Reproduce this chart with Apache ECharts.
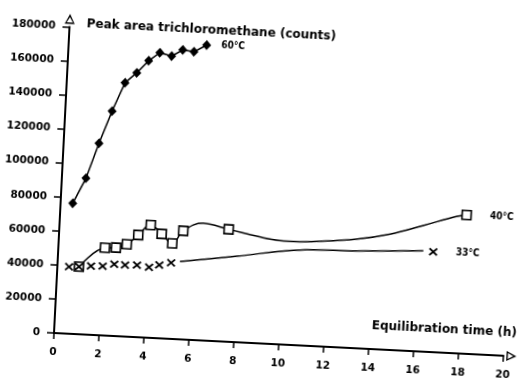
<!DOCTYPE html>
<html>
<head>
<meta charset="utf-8">
<script src="https://cdn.jsdelivr.net/npm/echarts@6.0.0/dist/echarts.min.js"></script>
<style>
  html, body { margin: 0; padding: 0; background: #fff; overflow: hidden; }
  /* the scanned figure sits a little tilted, turn the chart the same way.
     the box starts 20px off the left edge so the long tick labels are not cut */
  #peakArea {
    position: absolute;
    left: -20px;
    top: 0;
    width: 540px;
    height: 390px;
    transform-origin: 74px 333px;
    transform: rotate(2.9deg);
  }
</style>
</head>
<body>
<div id="peakArea"></div>
<script>
// 60°C measurements
var hours60 = [0.54, 1.07, 1.57, 2.08, 2.59, 3.09, 3.59, 4.07, 4.6, 5.08, 5.58, 6.13];
var area60 = [76600, 91700, 112600, 131900, 148900, 155100, 162500, 167500, 165900, 169800, 169100, 173400];

// 40°C measurements
var hours40 = [0.96, 2.07, 2.56, 3.03, 3.52, 4.05, 4.56, 5.05, 5.51, 7.52, 18.05];
var area40 = [39600, 51500, 51900, 54200, 60000, 66200, 61300, 56100, 63800, 66000, 81500];

// 33°C measurements
var hours33 = [0.52, 0.96, 1.49, 2.01, 2.52, 3.0, 3.53, 4.07, 4.52, 5.04, 16.65];
var area33 = [39300, 39600, 40400, 40700, 42100, 42000, 42300, 41400, 43000, 44700, 58900];

// hand drawn curves
var curve40Hours = [0.96, 2.07, 2.56, 3.03, 3.52, 4.05, 4.56, 5.05, 5.51, 6.38, 7.52, 8.9, 9.8, 10.7, 11.2, 13.2, 14.7, 16.15, 17.6, 18.05];
var curve40Area = [39600, 51500, 51900, 54200, 60000, 66200, 61300, 56100, 63800, 68800, 66000, 62500, 61000, 60800, 61200, 64000, 68000, 74000, 80300, 81500];
var curve33Hours = [5.43, 7.95, 10.73, 13.25, 16.21];
var curve33Area = [45600, 50500, 56000, 57100, 59100];

var seriesNames = ["60°C", "40°C", "33°C"];
var xTitle = "Equilibration time (h)";
var yTitle = "Peak area trichloromethane (counts)";

function pairs(xs, ys) {
  return xs.map(function (x, i) { return [x, ys[i]]; });
}

// label only the last point of a series
function lastLabel(name, count, distance) {
  return {
    show: true,
    position: "right",
    distance: distance,
    color: "#000",
    fontFamily: "Liberation Sans Narrow, DejaVu Sans Condensed, sans-serif",
    fontWeight: "bold",
    fontSize: 10,
    formatter: function (p) { return p.dataIndex === count - 1 ? name : ""; }
  };
}

// hollow arrow head at the end of the axes
var openArrow = "path://M5,0 L10,10 L0,10 Z M5,3.2 L1.9,8.6 L8.1,8.6 Z";
var crossMark = "path://M0,1.5 L1.5,0 L5,3.5 L8.5,0 L10,1.5 L6.5,5 L10,8.5 L8.5,10 L5,6.5 L1.5,10 L0,8.5 L3.5,5 Z";

var tickFont = { color: "#000", fontFamily: "DejaVu Sans", fontWeight: "bold", fontSize: 10.5 };

var myChart = echarts.init(document.getElementById("peakArea"));
myChart.setOption({
  backgroundColor: "#fff",
  animation: false,
  title: [
    {
      text: yTitle,
      left: 91,
      top: 17,
      padding: 0,
      textStyle: { color: "#000", fontFamily: "DejaVu Sans", fontWeight: "bold", fontSize: 12 }
    },
    {
      text: xTitle,
      left: 391,
      top: 304,
      padding: 0,
      textStyle: { color: "#000", fontFamily: "DejaVu Sans", fontWeight: "bold", fontSize: 12 }
    }
  ],
  grid: {
    left: 74,
    top: 26.5,
    width: 450,
    height: 306.5,
    outerBoundsMode: "none"
  },
  xAxis: {
    type: "value",
    min: 0,
    max: 20,
    interval: 2,
    splitLine: { show: false },
    axisLine: {
      lineStyle: { color: "#000", width: 2 },
      symbol: ["none", openArrow],
      symbolSize: [10, 12],
      symbolOffset: [0, 8]
    },
    axisTick: { inside: false, length: 6, lineStyle: { color: "#000", width: 1.5 } },
    axisLabel: Object.assign({ margin: 14 }, tickFont)
  },
  yAxis: {
    type: "value",
    min: 0,
    max: 180000,
    interval: 20000,
    splitLine: { show: false },
    axisLine: {
      lineStyle: { color: "#000", width: 2 },
      symbol: ["none", openArrow],
      symbolSize: [10, 13],
      symbolOffset: [0, 8]
    },
    axisTick: { inside: false, length: 7, lineStyle: { color: "#000", width: 1.5 } },
    axisLabel: Object.assign({
      margin: 14,
      formatter: function (v) { return String(v); }
    }, tickFont)
  },
  series: [
    {
      name: seriesNames[1] + " curve",
      type: "line",
      data: pairs(curve40Hours, curve40Area),
      showSymbol: false,
      smooth: 0.4,
      lineStyle: { color: "#000", width: 1.5 },
      z: 2
    },
    {
      name: seriesNames[1],
      type: "scatter",
      data: pairs(hours40, area40),
      symbol: "rect",
      symbolSize: 9,
      itemStyle: { color: "#fff", borderColor: "#000", borderWidth: 1.6, opacity: 1 },
      label: lastLabel(seriesNames[1], hours40.length, 18),
      z: 3
    },
    {
      name: seriesNames[2] + " curve",
      type: "line",
      data: pairs(curve33Hours, curve33Area),
      showSymbol: false,
      smooth: 0.4,
      lineStyle: { color: "#000", width: 1.5 },
      z: 2
    },
    {
      name: seriesNames[2],
      type: "scatter",
      data: pairs(hours33, area33),
      symbol: crossMark,
      symbolSize: [9, 8],
      itemStyle: { color: "#000", opacity: 1 },
      label: lastLabel(seriesNames[2], hours33.length, 18),
      z: 4
    },
    {
      name: seriesNames[0],
      type: "line",
      data: pairs(hours60, area60),
      symbol: "diamond",
      symbolSize: [9, 10],
      showAllSymbol: true,
      itemStyle: { color: "#000" },
      lineStyle: { color: "#000", width: 1.5 },
      label: lastLabel(seriesNames[0], hours60.length, 10),
      z: 4
    }
  ]
});
</script>
</body>
</html>
